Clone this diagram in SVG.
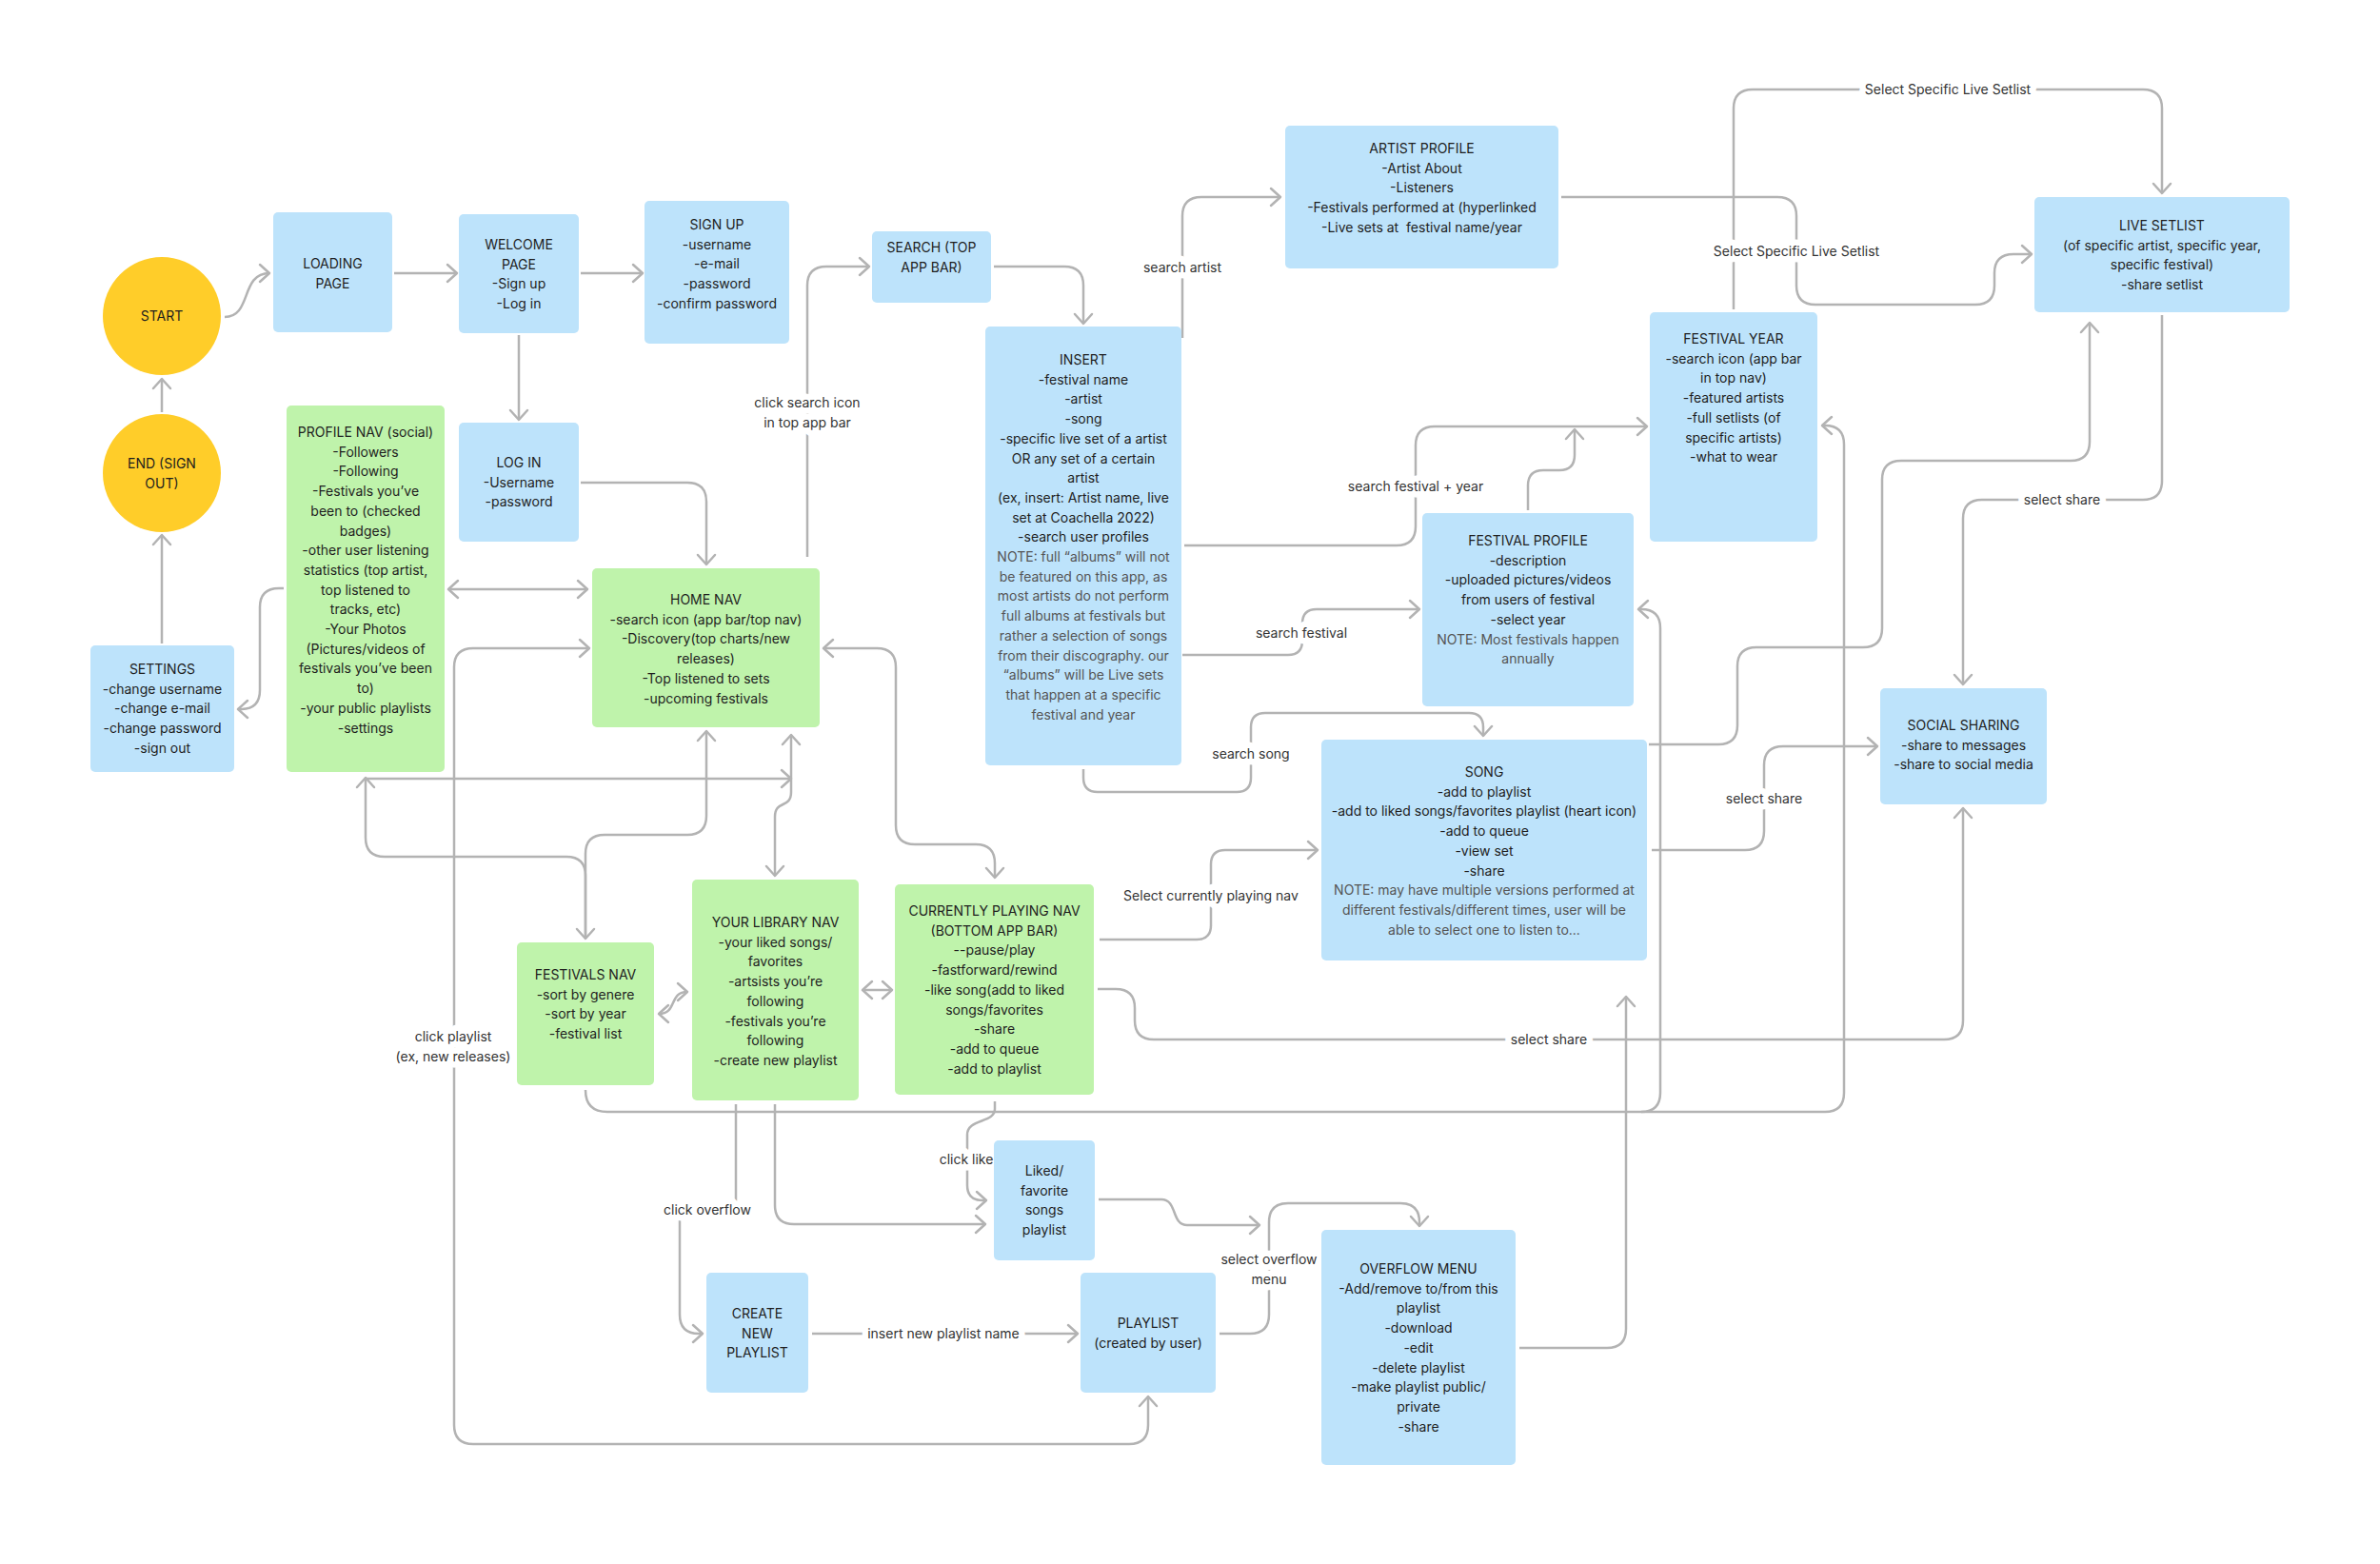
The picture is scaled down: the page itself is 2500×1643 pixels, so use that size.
<svg xmlns="http://www.w3.org/2000/svg" width="2500" height="1643" viewBox="0 0 2500 1643">
<style>
.b{fill:#BDE3FB}
.g{fill:#BFF3AB}
.y{fill:#FFCD29}
text{font-family:Inter,"Liberation Sans",sans-serif;font-size:14px;fill:#1E1E1E;text-anchor:middle}
.note{fill:#555}
.c path{fill:none;stroke:#B3B3B3;stroke-width:2.5;stroke-linejoin:round}
.lbl{fill:#333;paint-order:stroke;stroke:#fff;stroke-width:13px;stroke-linejoin:round}
</style>
<defs>
<marker id="a" markerUnits="userSpaceOnUse" markerWidth="26" markerHeight="26" viewBox="-13 -13 26 26" refX="0" refY="0" orient="auto-start-reverse">
<path d="M -10 -9 L 0 0 L -10 9" fill="none" stroke="#B3B3B3" stroke-width="2.5" stroke-linejoin="round" stroke-linecap="round"/>
</marker>
</defs>
<rect width="2500" height="1643" fill="#fff"/>

<g id="connectors" class="c">
<path d="M 236 333 C 265 333 252 287 283 287" marker-end="url(#a)"/>
<path d="M 414 287 L 480 287" marker-end="url(#a)"/>
<path d="M 610 287 L 675 287" marker-end="url(#a)"/>
<path d="M 545 352 L 545 441" marker-end="url(#a)"/>
<path d="M 170 433 L 170 398" marker-end="url(#a)"/>
<path d="M 170 676 L 170 562" marker-end="url(#a)"/>
<path d="M 610 507 L 722 507 Q 742 507 742 527 L 742 593" marker-end="url(#a)"/>
<path d="M 298 618 L 293 618 Q 273 618 273 638 L 273 725 Q 273 745 253 745 L 250 745" marker-end="url(#a)"/>
<path d="M 471 619 L 617 619" marker-start="url(#a)" marker-end="url(#a)"/>
<path d="M 619 681 L 497 681 Q 477 681 477 701 L 477 1497 Q 477 1517 497 1517 L 1186 1517 Q 1206 1517 1206 1497 L 1206 1467" marker-start="url(#a)" marker-end="url(#a)"/>
<path d="M 384 817 L 384 880 Q 384 900 404 900 L 595 900 Q 615 900 615 920 L 615 986" marker-start="url(#a)" marker-end="url(#a)"/>
<path d="M 384 818 L 831 818" marker-end="url(#a)"/>
<path d="M 742 768 L 742 857 Q 742 877 722 877 L 635 877 Q 615 877 615 897 L 615 986" marker-start="url(#a)"/>
<path d="M 831 772 L 831 832 C 831 850 814 840 814 858 L 814 920" marker-start="url(#a)" marker-end="url(#a)"/>
<path d="M 692 1065 C 712 1065 702 1042 722 1042" marker-start="url(#a)" marker-end="url(#a)"/>
<path d="M 906 1040 L 937 1040" marker-start="url(#a)" marker-end="url(#a)"/>
<path d="M 865 681 L 921 681 Q 941 681 941 701 L 941 867 Q 941 887 961 887 L 1025 887 Q 1045 887 1045 907 L 1045 922" marker-start="url(#a)" marker-end="url(#a)"/>
<path d="M 848 585 L 848 300 Q 848 280 868 280 L 913 280" marker-end="url(#a)"/>
<path d="M 1044 280 L 1118 280 Q 1138 280 1138 300 L 1138 340" marker-end="url(#a)"/>
<path d="M 1242 355 L 1242 227 Q 1242 207 1262 207 L 1345 207" marker-end="url(#a)"/>
<path d="M 1244 573 L 1467 573 Q 1487 573 1487 553 L 1487 468 Q 1487 448 1507 448 L 1730 448" marker-end="url(#a)"/>
<path d="M 1605 536 L 1605 510 Q 1605 494 1621 494 L 1638 494 Q 1654 494 1654 478 L 1654 451" marker-end="url(#a)"/>
<path d="M 1242 688 L 1353 688 Q 1368 688 1368 673 L 1368 655 Q 1368 640 1383 640 L 1491 640" marker-end="url(#a)"/>
<path d="M 1138 808 L 1138 817 Q 1138 832 1153 832 L 1299 832 Q 1314 832 1314 817 L 1314 764 Q 1314 749 1329 749 L 1543 749 Q 1558 749 1558 764 L 1558 773" marker-end="url(#a)"/>
<path d="M 1155 987 L 1257 987 Q 1272 987 1272 972 L 1272 908 Q 1272 893 1287 893 L 1384 893" marker-end="url(#a)"/>
<path d="M 1153 1039 L 1172 1039 Q 1192 1039 1192 1059 L 1192 1072 Q 1192 1092 1212 1092 L 2042 1092 Q 2062 1092 2062 1072 L 2062 849" marker-end="url(#a)"/>
<path d="M 814 1160 L 814 1266 Q 814 1286 834 1286 L 1035 1286" marker-end="url(#a)"/>
<path d="M 773 1160 L 773 1271 L 714 1271 L 714 1381 Q 714 1401 734 1401 L 738 1401" marker-end="url(#a)"/>
<path d="M 1045 1157 L 1045 1165 C 1045 1180 1016 1175 1016 1192 L 1016 1245 Q 1016 1261 1032 1261 L 1036 1261" marker-end="url(#a)"/>
<path d="M 1154 1260 L 1220 1260 C 1237 1260 1230 1287 1247 1287 L 1323 1287" marker-end="url(#a)"/>
<path d="M 853 1401 L 1132 1401" marker-end="url(#a)"/>
<path d="M 1281 1401 L 1313 1401 Q 1333 1401 1333 1381 L 1333 1284 Q 1333 1264 1353 1264 L 1471 1264 Q 1491 1264 1491 1284 L 1491 1288" marker-end="url(#a)"/>
<path d="M 1596 1416 L 1688 1416 Q 1708 1416 1708 1396 L 1708 1047" marker-end="url(#a)"/>
<path d="M 615 1145 Q 615 1168 638 1168 L 1724 1168 Q 1744 1168 1744 1148 L 1744 660 Q 1744 640 1724 640 L 1721 640" marker-end="url(#a)"/>
<path d="M 1724 1168 L 1917 1168 Q 1937 1168 1937 1148 L 1937 467 Q 1937 447 1917 447 L 1914 447" marker-end="url(#a)"/>
<path d="M 1735 893 L 1833 893 Q 1853 893 1853 873 L 1853 804 Q 1853 784 1873 784 L 1972 784" marker-end="url(#a)"/>
<path d="M 1732 782 L 1805 782 Q 1825 782 1825 762 L 1825 700 Q 1825 680 1845 680 L 1957 680 Q 1977 680 1977 660 L 1977 504 Q 1977 484 1997 484 L 2175 484 Q 2195 484 2195 464 L 2195 339" marker-end="url(#a)"/>
<path d="M 2271 331 L 2271 505 Q 2271 525 2251 525 L 2082 525 Q 2062 525 2062 545 L 2062 719" marker-end="url(#a)"/>
<path d="M 1640 207 L 1867 207 Q 1887 207 1887 227 L 1887 300 Q 1887 320 1907 320 L 2075 320 Q 2095 320 2095 300 L 2095 287 Q 2095 267 2115 267 L 2134 267" marker-end="url(#a)"/>
<path d="M 1821 325 L 1821 114 Q 1821 94 1841 94 L 2251 94 Q 2271 94 2271 114 L 2271 203" marker-end="url(#a)"/>
</g>

<g id="labels">
<text class="lbl" x="848" y="428">click search icon</text>
<text class="lbl" x="848" y="449">in top app bar</text>
<text class="lbl" x="1242" y="286">search artist</text>
<text class="lbl" x="1487" y="516">search festival + year</text>
<text class="lbl" x="1367" y="670">search festival</text>
<text class="lbl" x="1314" y="797">search song</text>
<text class="lbl" x="1272" y="946">Select currently playing nav</text>
<text class="lbl" x="1627" y="1097">select share</text>
<text class="lbl" x="1853" y="844">select share</text>
<text class="lbl" x="2166" y="530">select share</text>
<text class="lbl" x="1887" y="269">Select Specific Live Setlist</text>
<text class="lbl" x="2046" y="99">Select Specific Live Setlist</text>
<text class="lbl" x="476" y="1094">click playlist</text>
<text class="lbl" x="476" y="1115">(ex, new releases)</text>
<text class="lbl" x="743" y="1276">click overflow</text>
<text class="lbl" x="1015" y="1223">click like</text>
<text class="lbl" x="991" y="1406">insert new playlist name</text>
<text class="lbl" x="1333" y="1328">select overflow</text>
<text class="lbl" x="1333" y="1349">menu</text>
</g>

<g id="start"><ellipse class="y" cx="170" cy="332" rx="62" ry="62"/><text x="170" y="337">START</text></g>
<g id="end"><ellipse class="y" cx="170" cy="497" rx="62" ry="62"/><text x="170" y="492">END (SIGN<tspan x="170" dy="20.7">OUT)</tspan></text></g>
<g id="loading"><rect class="b" x="287" y="223" width="125" height="126" rx="5"/><text x="349.5" y="282">LOADING<tspan x="349.5" dy="20.7">PAGE</tspan></text></g>
<g id="welcome"><rect class="b" x="482" y="225" width="126" height="125" rx="5"/><text x="545" y="262">WELCOME<tspan x="545" dy="20.7">PAGE</tspan><tspan x="545" dy="20.7">-Sign up</tspan><tspan x="545" dy="20.7">-Log in</tspan></text></g>
<g id="login"><rect class="b" x="482" y="444" width="126" height="125" rx="5"/><text x="545" y="491">LOG IN<tspan x="545" dy="20.7">-Username</tspan><tspan x="545" dy="20.7">-password</tspan></text></g>
<g id="signup"><rect class="b" x="677" y="211" width="152" height="150" rx="5"/><text x="753" y="241">SIGN UP<tspan x="753" dy="20.7">-username</tspan><tspan x="753" dy="20.7">-e-mail</tspan><tspan x="753" dy="20.7">-password</tspan><tspan x="753" dy="20.7">-confirm password</tspan></text></g>
<g id="search"><rect class="b" x="916" y="243" width="125" height="75" rx="5"/><text x="978.5" y="265">SEARCH (TOP<tspan x="978.5" dy="20.7">APP BAR)</tspan></text></g>
<g id="profile"><rect class="g" x="301" y="426" width="166" height="385" rx="5"/><text x="384" y="459">PROFILE NAV (social)<tspan x="384" dy="20.7">-Followers</tspan><tspan x="384" dy="20.7">-Following</tspan><tspan x="384" dy="20.7">-Festivals you’ve</tspan><tspan x="384" dy="20.7">been to (checked</tspan><tspan x="384" dy="20.7">badges)</tspan><tspan x="384" dy="20.7">-other user listening</tspan><tspan x="384" dy="20.7">statistics (top artist,</tspan><tspan x="384" dy="20.7">top listened to</tspan><tspan x="384" dy="20.7">tracks, etc)</tspan><tspan x="384" dy="20.7">-Your Photos</tspan><tspan x="384" dy="20.7">(Pictures/videos of</tspan><tspan x="384" dy="20.7">festivals you’ve been</tspan><tspan x="384" dy="20.7">to)</tspan><tspan x="384" dy="20.7">-your public playlists</tspan><tspan x="384" dy="20.7">-settings</tspan></text></g>
<g id="settings"><rect class="b" x="95" y="678" width="151" height="133" rx="5"/><text x="170.5" y="708">SETTINGS<tspan x="170.5" dy="20.7">-change username</tspan><tspan x="170.5" dy="20.7">-change e-mail</tspan><tspan x="170.5" dy="20.7">-change password</tspan><tspan x="170.5" dy="20.7">-sign out</tspan></text></g>
<g id="home"><rect class="g" x="622" y="597" width="239" height="167" rx="5"/><text x="741.5" y="635">HOME NAV<tspan x="741.5" dy="20.7">-search icon (app bar/top nav)</tspan><tspan x="741.5" dy="20.7">-Discovery(top charts/new</tspan><tspan x="741.5" dy="20.7">releases)</tspan><tspan x="741.5" dy="20.7">-Top listened to sets</tspan><tspan x="741.5" dy="20.7">-upcoming festivals</tspan></text></g>
<g id="insert"><rect class="b" x="1035" y="343" width="206" height="461" rx="5"/><text x="1138" y="383">INSERT<tspan x="1138" dy="20.7">-festival name</tspan><tspan x="1138" dy="20.7">-artist</tspan><tspan x="1138" dy="20.7">-song</tspan><tspan x="1138" dy="20.7">-specific live set of a artist</tspan><tspan x="1138" dy="20.7">OR any set of a certain</tspan><tspan x="1138" dy="20.7">artist</tspan><tspan x="1138" dy="20.7">(ex, insert: Artist name, live</tspan><tspan x="1138" dy="20.7">set at Coachella 2022)</tspan><tspan x="1138" dy="20.7">-search user profiles</tspan><tspan class="note" x="1138" dy="20.7">NOTE: full “albums” will not</tspan><tspan class="note" x="1138" dy="20.7">be featured on this app, as</tspan><tspan class="note" x="1138" dy="20.7">most artists do not perform</tspan><tspan class="note" x="1138" dy="20.7">full albums at festivals but</tspan><tspan class="note" x="1138" dy="20.7">rather a selection of songs</tspan><tspan class="note" x="1138" dy="20.7">from their discography. our</tspan><tspan class="note" x="1138" dy="20.7">“albums” will be Live sets</tspan><tspan class="note" x="1138" dy="20.7">that happen at a specific</tspan><tspan class="note" x="1138" dy="20.7">festival and year</tspan></text></g>
<g id="artist"><rect class="b" x="1350" y="132" width="287" height="150" rx="5"/><text x="1493.5" y="161">ARTIST PROFILE<tspan x="1493.5" dy="20.7">-Artist About</tspan><tspan x="1493.5" dy="20.7">-Listeners</tspan><tspan x="1493.5" dy="20.7">-Festivals performed at (hyperlinked</tspan><tspan x="1493.5" dy="20.7">-Live sets at&#160; festival name/year</tspan></text></g>
<g id="festyear"><rect class="b" x="1733" y="328" width="176" height="241" rx="5"/><text x="1821" y="361">FESTIVAL YEAR<tspan x="1821" dy="20.7">-search icon (app bar</tspan><tspan x="1821" dy="20.7">in top nav)</tspan><tspan x="1821" dy="20.7">-featured artists</tspan><tspan x="1821" dy="20.7">-full setlists (of</tspan><tspan x="1821" dy="20.7">specific artists)</tspan><tspan x="1821" dy="20.7">-what to wear</tspan></text></g>
<g id="festprofile"><rect class="b" x="1494" y="539" width="222" height="203" rx="5"/><text x="1605" y="573">FESTIVAL PROFILE<tspan x="1605" dy="20.7">-description</tspan><tspan x="1605" dy="20.7">-uploaded pictures/videos</tspan><tspan x="1605" dy="20.7">from users of festival</tspan><tspan x="1605" dy="20.7">-select year</tspan><tspan class="note" x="1605" dy="20.7">NOTE: Most festivals happen</tspan><tspan class="note" x="1605" dy="20.7">annually</tspan></text></g>
<g id="song"><rect class="b" x="1388" y="777" width="342" height="232" rx="5"/><text x="1559" y="816">SONG<tspan x="1559" dy="20.7">-add to playlist</tspan><tspan x="1559" dy="20.7">-add to liked songs/favorites playlist (heart icon)</tspan><tspan x="1559" dy="20.7">-add to queue</tspan><tspan x="1559" dy="20.7">-view set</tspan><tspan x="1559" dy="20.7">-share</tspan><tspan class="note" x="1559" dy="20.7">NOTE: may have multiple versions performed at</tspan><tspan class="note" x="1559" dy="20.7">different festivals/different times, user will be</tspan><tspan class="note" x="1559" dy="20.7">able to select one to listen to...</tspan></text></g>
<g id="livesetlist"><rect class="b" x="2137" y="207" width="268" height="121" rx="5"/><text x="2271" y="242">LIVE SETLIST<tspan x="2271" dy="20.7">(of specific artist, specific year,</tspan><tspan x="2271" dy="20.7">specific festival)</tspan><tspan x="2271" dy="20.7">-share setlist</tspan></text></g>
<g id="social"><rect class="b" x="1975" y="723" width="175" height="122" rx="5"/><text x="2062.5" y="767">SOCIAL SHARING<tspan x="2062.5" dy="20.7">-share to messages</tspan><tspan x="2062.5" dy="20.7">-share to social media</tspan></text></g>
<g id="festnav"><rect class="g" x="543" y="990" width="144" height="150" rx="5"/><text x="615" y="1029">FESTIVALS NAV<tspan x="615" dy="20.7">-sort by genere</tspan><tspan x="615" dy="20.7">-sort by year</tspan><tspan x="615" dy="20.7">-festival list</tspan></text></g>
<g id="library"><rect class="g" x="727" y="924" width="175" height="232" rx="5"/><text x="814.5" y="974">YOUR LIBRARY NAV<tspan x="814.5" dy="20.7">-your liked songs/</tspan><tspan x="814.5" dy="20.7">favorites</tspan><tspan x="814.5" dy="20.7">-artsists you’re</tspan><tspan x="814.5" dy="20.7">following</tspan><tspan x="814.5" dy="20.7">-festivals you’re</tspan><tspan x="814.5" dy="20.7">following</tspan><tspan x="814.5" dy="20.7">-create new playlist</tspan></text></g>
<g id="playing"><rect class="g" x="940" y="929" width="209" height="221" rx="5"/><text x="1044.5" y="962">CURRENTLY PLAYING NAV<tspan x="1044.5" dy="20.7">(BOTTOM APP BAR)</tspan><tspan x="1044.5" dy="20.7">--pause/play</tspan><tspan x="1044.5" dy="20.7">-fastforward/rewind</tspan><tspan x="1044.5" dy="20.7">-like song(add to liked</tspan><tspan x="1044.5" dy="20.7">songs/favorites</tspan><tspan x="1044.5" dy="20.7">-share</tspan><tspan x="1044.5" dy="20.7">-add to queue</tspan><tspan x="1044.5" dy="20.7">-add to playlist</tspan></text></g>
<g id="liked"><rect class="b" x="1044" y="1198" width="106" height="126" rx="5"/><text x="1097" y="1235">Liked/<tspan x="1097" dy="20.7">favorite</tspan><tspan x="1097" dy="20.7">songs</tspan><tspan x="1097" dy="20.7">playlist</tspan></text></g>
<g id="create"><rect class="b" x="742" y="1337" width="107" height="126" rx="5"/><text x="795.5" y="1385">CREATE<tspan x="795.5" dy="20.7">NEW</tspan><tspan x="795.5" dy="20.7">PLAYLIST</tspan></text></g>
<g id="playlist"><rect class="b" x="1135" y="1337" width="142" height="126" rx="5"/><text x="1206" y="1395">PLAYLIST<tspan x="1206" dy="20.7">(created by user)</tspan></text></g>
<g id="overflow"><rect class="b" x="1388" y="1292" width="204" height="247" rx="5"/><text x="1490" y="1338">OVERFLOW MENU<tspan x="1490" dy="20.7">-Add/remove to/from this</tspan><tspan x="1490" dy="20.7">playlist</tspan><tspan x="1490" dy="20.7">-download</tspan><tspan x="1490" dy="20.7">-edit</tspan><tspan x="1490" dy="20.7">-delete playlist</tspan><tspan x="1490" dy="20.7">-make playlist public/</tspan><tspan x="1490" dy="20.7">private</tspan><tspan x="1490" dy="20.7">-share</tspan></text></g>
</svg>
